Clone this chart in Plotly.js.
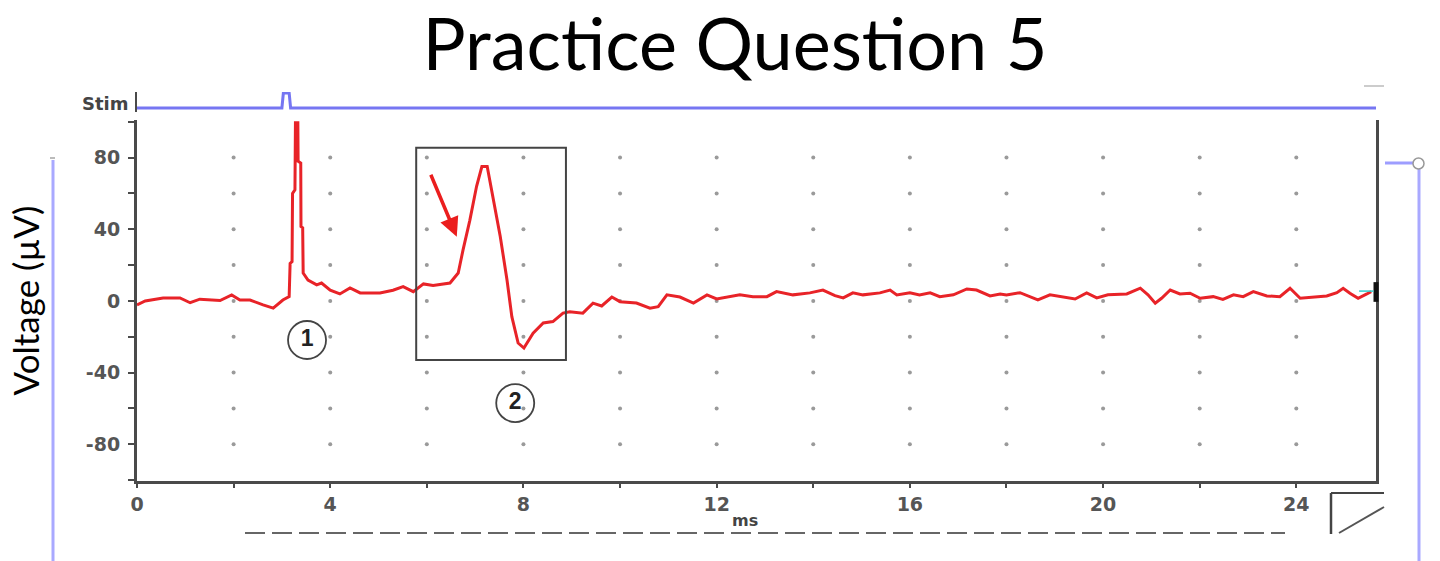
<!DOCTYPE html>
<html>
<head>
<meta charset="utf-8">
<script src="https://cdn.plot.ly/plotly-3.0.1.min.js"></script>
<style>
html,body{margin:0;padding:0;background:#fff;}
#chart{width:1440px;height:561px;}
</style>
</head>
<body>
<div id="chart"></div>
<script>
// ---- Data ----
// Recorded response (ms, µV)
var timeMs = [0, 0.17, 0.54, 0.89, 1.1, 1.3, 1.72, 1.96, 2.13, 2.34, 2.61, 2.82, 3.02, 3.15, 3.17, 3.21, 3.22, 3.27, 3.28, 3.33, 3.335, 3.39, 3.395, 3.43, 3.44, 3.54, 3.72, 3.82, 4.0, 4.2, 4.41, 4.62, 5.03, 5.3, 5.51, 5.72, 5.93, 6.13, 6.48, 6.65, 6.75, 6.89, 7.03, 7.14, 7.25, 7.37, 7.52, 7.66, 7.76, 7.89, 8.01, 8.2, 8.41, 8.61, 8.82, 8.96, 9.23, 9.44, 9.62, 9.83, 10.0, 10.34, 10.62, 10.79, 10.97, 11.24, 11.52, 11.8, 12.0, 12.48, 12.75, 13.04, 13.24, 13.58, 13.93, 14.2, 14.45, 14.62, 14.82, 15.03, 15.38, 15.59, 15.73, 16.0, 16.2, 16.42, 16.62, 16.9, 17.18, 17.38, 17.66, 17.87, 18.0, 18.28, 18.49, 18.65, 18.9, 19.17, 19.42, 19.66, 19.87, 20.1, 20.49, 20.77, 20.93, 21.08, 21.21, 21.39, 21.59, 21.8, 22.01, 22.28, 22.48, 22.7, 22.9, 23.11, 23.39, 23.66, 23.87, 24.08, 24.29, 24.63, 24.84, 24.97, 25.11, 25.28, 25.46, 25.55];
var voltageUv = [-2.2, 0, 1.7, 1.7, -1, 1, 0.2, 3.4, 0.5, 0.5, -2.2, -4, 0.5, 2.4, 21, 22, 60, 62, 99.4, 99.4, 78, 77, 41.5, 40.8, 15.6, 11.7, 9, 10, 6, 3.9, 7.3, 4.5, 4.5, 6, 8, 5.2, 9.5, 8.6, 10, 15.6, 28.5, 45, 64, 75, 75, 58, 36, 11.7, -8.8, -23.5, -26.3, -18, -12.3, -11.5, -6.8, -6, -6.8, -1.2, -2.8, 2.2, -0.4, -1.2, -4, -3.2, 3.4, 2.2, -1.2, 3.4, 1.1, 3.4, 2.4, 2.4, 5.2, 3.4, 4.5, 6.1, 3, 1.7, 4.5, 3.4, 4.5, 6.1, 3.4, 4.6, 3.4, 4.5, 2.4, 3.4, 6.7, 6.1, 2.8, 3.9, 3.4, 4.6, 2.2, 0.6, 3.4, 2.2, 1.1, 4.5, 1.7, 3.4, 3.9, 7.1, 3.4, -1.3, 1.5, 6.1, 3.9, 4.3, 1.5, 2.4, 0.9, 3.4, 2.4, 5.2, 2.8, 2.4, 7.1, 1.5, 2.1, 2.8, 4.6, 7.1, 4.3, 1.5, 3.9, 5.2];

// Stimulus channel (ms, relative level)
var stimTime = [0, 3.0, 3.03, 3.15, 3.18, 25.65];
var stimLevel = [0, 0, 1, 1, 0, 0];

// Axis ticks
var xTickVals = [0, 2, 4, 6, 8, 10, 12, 14, 16, 18, 20, 22, 24];
var xTickText = ['0', '', '4', '', '8', '', '12', '', '16', '', '20', '', '24'];
var yTickVals = [-100, -80, -60, -40, -20, 0, 20, 40, 60, 80, 100];
var yTickText = ['', '-80', '', '-40', '', '0', '', '40', '', '80', ''];

// Dotted grid positions
var gridTime = [2, 4, 6, 8, 10, 12, 14, 16, 18, 20, 22, 24];
var gridVolt = [-80, -60, -40, -20, 0, 20, 40, 60, 80];

// Annotated components
var markerLabels = ['1', '2'];
var markerTime = [3.52, 7.83];
var markerVolt = [-21.8, -57];

// Highlight box and arrow (ms, µV)
var boxTime = [5.78, 8.88];
var boxVolt = [-33, 85.5];
var arrowTail = [6.07, 71.3];
var arrowHead = [6.62, 35.9];

// ---- Build ----
var dotX = [], dotY = [];
for (var i = 0; i < gridTime.length; i++) {
  for (var j = 0; j < gridVolt.length; j++) {
    dotX.push(gridTime[i]); dotY.push(gridVolt[j]);
  }
}

var axisColor = '#4a4a4a';
var tickFont = {family: 'DejaVu Sans', size: 19, color: '#555', weight: 'bold'};

var traces = [
  {x: dotX, y: dotY, type: 'scatter', mode: 'markers', xaxis: 'x', yaxis: 'y',
   marker: {color: '#9a9a9a', size: 4}, hoverinfo: 'skip', showlegend: false},
  {x: timeMs, y: voltageUv, type: 'scatter', mode: 'lines', xaxis: 'x', yaxis: 'y',
   line: {color: 'rgb(232,35,40)', width: 3}, showlegend: false},
  {x: stimTime, y: stimLevel, type: 'scatter', mode: 'lines', xaxis: 'x', yaxis: 'y2',
   line: {color: 'rgb(118,118,242)', width: 3}, showlegend: false},
  {x: markerTime, y: markerVolt, type: 'scatter', mode: 'markers+text', xaxis: 'x', yaxis: 'y',
   text: markerLabels, textposition: 'middle center',
   textfont: {family: 'Liberation Sans', size: 23, color: '#222', weight: 'bold'},
   marker: {symbol: 'circle-open', size: 38, color: '#444', line: {width: 1.8, color: '#444'}},
   showlegend: false}
];

var H = 389, B = 481, L = 137, W = 1239;
function px(x) { return (x - L) / W; }
function py(y) { return (B - y) / H; }

var shapes = [
  {type: 'rect', xref: 'x', yref: 'y', x0: boxTime[0], x1: boxTime[1], y0: boxVolt[0], y1: boxVolt[1],
   line: {color: '#444', width: 2}},
  // left blue bar
  {type: 'line', xref: 'paper', yref: 'paper', x0: px(53), x1: px(53), y0: py(160), y1: py(561),
   line: {color: '#a9a9ff', width: 3}},
  {type: 'line', xref: 'paper', yref: 'paper', x0: px(50), x1: px(55), y0: py(158), y1: py(158),
   line: {color: '#bbb', width: 2}},
  // right blue bar
  {type: 'line', xref: 'paper', yref: 'paper', x0: px(1385), x1: px(1416), y0: py(163), y1: py(163),
   line: {color: '#9d9dff', width: 3}},
  {type: 'line', xref: 'paper', yref: 'paper', x0: px(1419), x1: px(1419), y0: py(163), y1: py(561),
   line: {color: '#a9a9ff', width: 3}},
  {type: 'circle', xref: 'paper', yref: 'paper', x0: px(1413), x1: px(1424), y0: py(158), y1: py(169),
   fillcolor: '#fff', line: {color: '#999', width: 1.5}},
  // bottom dashed bar
  {type: 'line', xref: 'paper', yref: 'paper', x0: px(245), x1: px(1285), y0: py(533), y1: py(533),
   line: {color: '#666', width: 2, dash: '20px,7px'}},
  // bottom-right corner icon
  {type: 'line', xref: 'paper', yref: 'paper', x0: px(1331), x1: px(1331), y0: py(493), y1: py(534),
   line: {color: '#444', width: 2.5}},
  {type: 'line', xref: 'paper', yref: 'paper', x0: px(1331), x1: px(1384), y0: py(493), y1: py(493),
   line: {color: '#444', width: 2}},
  {type: 'line', xref: 'paper', yref: 'paper', x0: px(1339), x1: px(1384), y0: py(533), y1: py(507),
   line: {color: '#555', width: 2}},
  // tiny grey dash top right
  {type: 'line', xref: 'paper', yref: 'paper', x0: px(1364), x1: px(1384), y0: py(86), y1: py(86),
   line: {color: '#ccc', width: 2}},
  // end marker on right axis
  {type: 'line', xref: 'paper', yref: 'y', x0: 1, x1: 1, y0: -0.5, y1: 10.5,
   line: {color: '#111', width: 5}},
  {type: 'line', xref: 'x', yref: 'y', x0: 25.3, x1: 25.6, y0: 5.5, y1: 5.5,
   line: {color: '#3cc', width: 1.5}}
];

var annotations = [
  {xref: 'x', yref: 'y', axref: 'x', ayref: 'y', x: arrowHead[0], y: arrowHead[1],
   ax: arrowTail[0], ay: arrowTail[1], showarrow: true, arrowhead: 2, arrowsize: 1.1,
   arrowwidth: 3.5, arrowcolor: 'rgb(235,30,30)', text: ''},
  {xref: 'paper', yref: 'paper', x: px(131), y: py(104), xanchor: 'right', yanchor: 'middle',
   text: 'Stim', showarrow: false, font: {family: 'DejaVu Sans', size: 18, color: '#444', weight: 'bold'}},
  {xref: 'paper', yref: 'paper', x: px(745), y: py(520), xanchor: 'center', yanchor: 'middle',
   text: 'ms', showarrow: false, font: {family: 'DejaVu Sans', size: 16, color: '#444', weight: 'bold'}}
];

var titleSize = 72;
var titleBaseline = 71;

var layout = {
  width: 1440, height: 561,
  paper_bgcolor: '#fff', plot_bgcolor: '#fff',
  margin: {l: L, r: 1440 - 1376, t: 92, b: 80, pad: 0},
  title: {text: 'Practice Question 5', font: {family: 'Lato', size: titleSize, color: '#000'},
          xref: 'container', x: 735 / 1440, xanchor: 'center',
          yref: 'container', y: 1 - (titleBaseline - 0.36 * titleSize) / 561, yanchor: 'middle'},
  xaxis: {range: [0, 25.65], anchor: 'y', showgrid: false, zeroline: false,
          showline: true, linecolor: axisColor, linewidth: 3, mirror: false,
          ticks: 'outside', ticklen: 4, tickwidth: 2, tickcolor: axisColor,
          tickvals: xTickVals, ticktext: xTickText, tickfont: tickFont},
  yaxis: {domain: [0, 361 / H], range: [-100.5, 101], showgrid: false, zeroline: false,
          showline: true, linecolor: axisColor, linewidth: 3, mirror: true,
          ticks: 'outside', ticklen: 6, tickwidth: 2, tickcolor: axisColor,
          tickvals: yTickVals, ticktext: yTickText, tickfont: tickFont, ticklabelstandoff: 4,
          title: {text: 'Voltage (µV)', font: {family: 'Lato', size: 35, color: '#000'}, standoff: 36}},
  yaxis2: {domain: [py(112), 1], range: [-0.267, 1.067], showgrid: false, zeroline: false,
           showline: true, linecolor: axisColor, linewidth: 2, showticklabels: false, ticks: ''},
  shapes: shapes,
  annotations: annotations,
  showlegend: false
};

Plotly.newPlot('chart', traces, layout, {displayModeBar: false, staticPlot: true});
</script>
</body>
</html>
